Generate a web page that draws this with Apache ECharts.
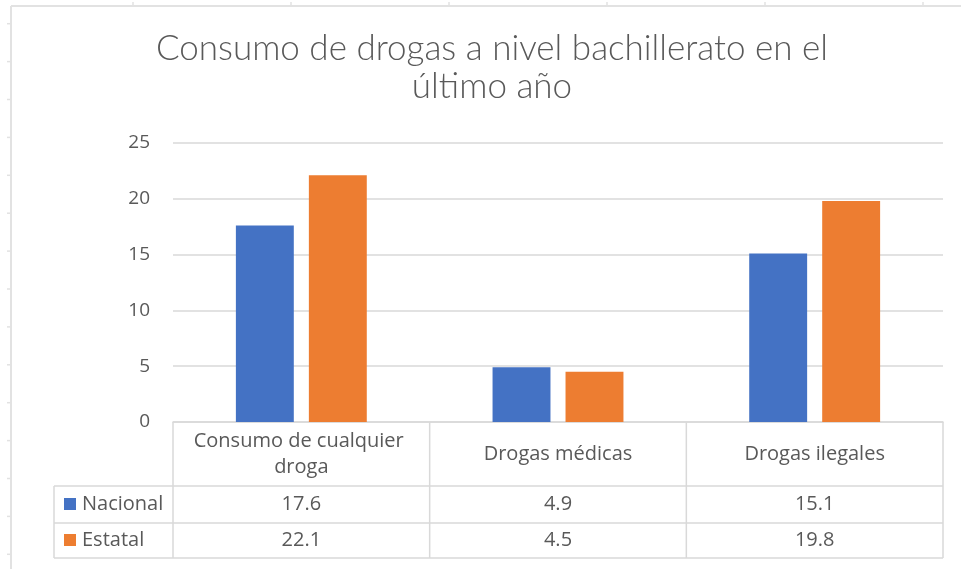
<!DOCTYPE html>
<html><head><meta charset="utf-8">
<script src="https://cdn.jsdelivr.net/npm/echarts@6/dist/echarts.min.js"></script>
<style>html,body{margin:0;padding:0;background:#fff}#c{width:961px;height:569px}</style>
</head><body><div id="c"></div>
<script>
const titleText = 'Consumo de drogas a nivel bachillerato en el\núltimo año';
const categories = ['Consumo de cualquier droga', 'Drogas médicas', 'Drogas ilegales'];
const seriesNames = ['Nacional', 'Estatal'];
const nacional = [17.6, 4.9, 15.1];
const estatal = [22.1, 4.5, 19.8];
const yMin = 0, yMax = 25, yInterval = 5;

const colors = ['#4472C4', '#ED7D31'];
const TXT = '#595959', LINE = '#D9D9D9', FRAME = '#E2E2E2';
const tFont = 'Open Sans';

const chart = echarts.init(document.getElementById('c'), null, {renderer: 'canvas'});

function rowAxis(values, margin) {
  return {
    type: 'category', gridIndex: 0, position: 'bottom',
    data: values.map(v => v.toFixed(1)),
    axisLine: {show: false}, axisTick: {show: false}, splitLine: {show: false},
    axisLabel: {margin: margin, verticalAlign: 'middle', color: TXT, fontFamily: tFont, fontSize: 20, interval: 0}
  };
}

chart.setOption({
  animation: false,
  backgroundColor: '#fff',
  title: {
    text: titleText, left: 492, top: 30, textAlign: 'center', padding: 0,
    textStyle: {fontFamily: 'Lato', fontWeight: 300, fontSize: 35, lineHeight: 38, color: TXT}
  },
  legend: {
    orient: 'vertical', left: 64, top: 494, padding: 0, itemGap: 16,
    itemWidth: 12, itemHeight: 12, icon: 'rect', selectedMode: false,
    data: seriesNames,
    textStyle: {color: TXT, fontFamily: tFont, fontSize: 20, padding: [0, 0, 0, 1]}
  },
  grid: {left: 173, right: 18, top: 143, bottom: 147, containLabel: false},
  xAxis: [
    {
      type: 'category', gridIndex: 0, position: 'bottom', data: categories,
      axisLine: {show: true, lineStyle: {color: LINE, width: 1.5}},
      axisTick: {show: false}, splitLine: {show: false},
      axisLabel: {margin: 32, verticalAlign: 'middle', color: TXT, fontFamily: tFont, fontSize: 20,
        lineHeight: 26, width: 230, overflow: 'break', interval: 0, align: 'center'}
    },
    rowAxis(nacional, 82.5),
    rowAxis(estatal, 118.5)
  ],
  yAxis: {
    type: 'value', min: yMin, max: yMax, interval: yInterval,
    axisLine: {show: false}, axisTick: {show: false},
    splitLine: {lineStyle: {color: LINE, width: 1.5}},
    axisLabel: {margin: 23, color: TXT, fontFamily: tFont, fontSize: 19}
  },
  series: [
    {name: seriesNames[0], type: 'bar', data: nacional, xAxisIndex: 0, itemStyle: {color: colors[0]},
      barCategoryGap: '49%', barGap: '26%'},
    {name: seriesNames[1], type: 'bar', data: estatal, xAxisIndex: 0, itemStyle: {color: colors[1]},
      barCategoryGap: '49%', barGap: '26%'}
  ]
});

// Table borders derived from the category axis scale
const c0 = chart.convertToPixel({xAxisIndex: 0}, 0);
const c1 = chart.convertToPixel({xAxisIndex: 0}, 1);
const band = c1 - c0;
const bounds = categories.map((_, i) => c0 - band / 2 + i * band);
bounds.push(c0 - band / 2 + categories.length * band);
const y0 = chart.convertToPixel({yAxisIndex: 0}, 0);
const headerH = 64, rowH = [37, 35];
const rowTops = [y0 + headerH, y0 + headerH + rowH[0]];
const tableBottom = y0 + headerH + rowH[0] + rowH[1];
const legendLeft = 54;

const g = [];
function ln(x1, y1, x2, y2, color, w) {
  g.push({type: 'line', silent: true, shape: {x1, y1, x2, y2}, style: {stroke: color, lineWidth: w}});
}
bounds.forEach(x => ln(x, y0, x, tableBottom, LINE, 1.5));
ln(legendLeft, rowTops[0], legendLeft, tableBottom, LINE, 1.5);
rowTops.forEach(y => ln(legendLeft, y, bounds[bounds.length - 1], y, LINE, 1.5));
ln(legendLeft, tableBottom, bounds[bounds.length - 1], tableBottom, LINE, 1.5);

// worksheet frame decoration
ln(11, 6, 11, 569, FRAME, 2);
ln(11, 6, 961, 6, FRAME, 2);
for (let y = 23.7; y < 569; y += 37.9) ln(7, y, 11, y, FRAME, 1.5);
for (let x = 133; x < 961; x += 158) ln(x, 2, x, 6, FRAME, 1.5);

chart.setOption({graphic: {elements: g}});
</script></body></html>
